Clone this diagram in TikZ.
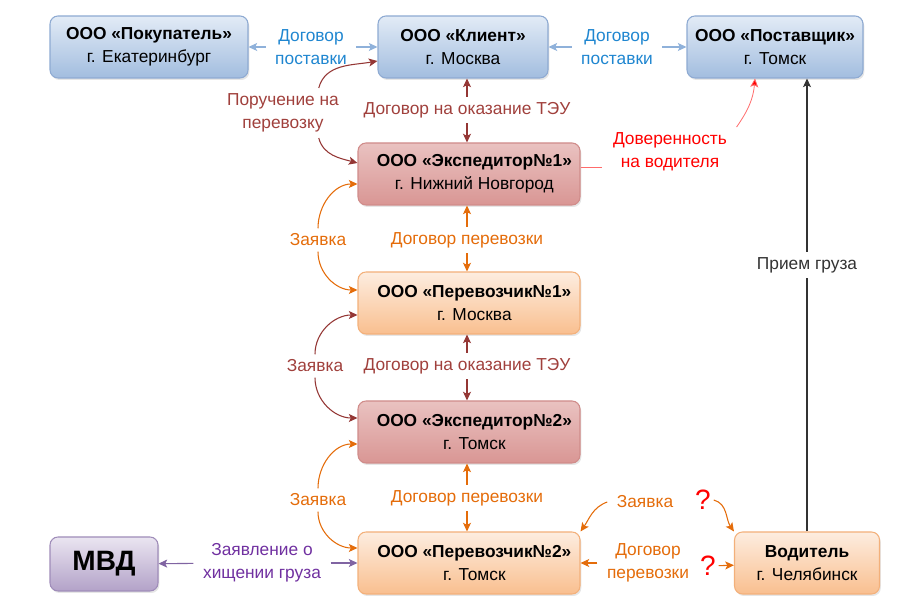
\documentclass[tikz,border=0pt]{standalone}
\usepackage{fontspec}
\setmainfont{Liberation Sans}
\usepackage{xcolor}
\usepackage{tikz}
\usetikzlibrary{arrows.meta}
\usetikzlibrary{positioning}
\usetikzlibrary{calc}
\usetikzlibrary{shadows}
\definecolor{sinijL}{HTML}{E2EBF6}
\definecolor{sinijD}{HTML}{A2BDDF}
\definecolor{sinijB}{HTML}{8EAAD2}
\definecolor{sinijS}{HTML}{8FB1DA}
\definecolor{sinijT}{HTML}{1F86D0}
\definecolor{krasL}{HTML}{F7E6E5}
\definecolor{krasD}{HTML}{D99694}
\definecolor{krasB}{HTML}{D08C8A}
\definecolor{bordoS}{HTML}{943634}
\definecolor{bordoT}{HTML}{A0403C}
\definecolor{oranL}{HTML}{FDEDE0}
\definecolor{oranD}{HTML}{F9BF8F}
\definecolor{oranB}{HTML}{F3B07A}
\definecolor{oranS}{HTML}{E46C0A}
\definecolor{fiolL}{HTML}{EAE5F1}
\definecolor{fiolD}{HTML}{B3A2C8}
\definecolor{fiolB}{HTML}{9F8CB9}
\definecolor{fiolS}{HTML}{8064A2}
\definecolor{fiolT}{HTML}{7030A0}
\definecolor{krasnyj}{HTML}{FF0000}
\definecolor{krasnyjS}{HTML}{FF6B6B}
\definecolor{chern}{HTML}{333333}
\tikzset{
  blok/.style={draw, rounded corners=6pt, align=center, minimum width=#1, minimum height=46.5pt,
    inner sep=2pt, line width=0.8pt, font=\fontsize{13}{17}\selectfont,
    drop shadow={opacity=0.2, shadow xshift=1pt, shadow yshift=-1.5pt}},
  blok/.default=166.5pt,
  sinij/.style={top color=sinijL, bottom color=sinijD, draw=sinijB},
  kras/.style={top color=krasD!45!krasL, middle color=krasL, bottom color=krasD, draw=krasB},
  oran/.style={top color=oranL, bottom color=oranD, draw=oranB},
  fiol/.style={top color=fiolL, bottom color=fiolD, draw=fiolB},
  podpis/.style={align=center, inner xsep=7pt, inner ysep=4pt, font=\fontsize{13}{17.5}\selectfont},
  vopros/.style={inner sep=2pt, text=krasnyj, font=\fontsize{21}{23}\selectfont},
  strelka/.style={-{Stealth[length=6.5pt,width=6pt,inset=1.5pt]}, line width=0.8pt},
}

\begin{document}
\begin{tikzpicture}[x=0.75pt, y=0.75pt]
  \useasboundingbox (0,0) rectangle (900,599);
  % organisations
  \node[blok=148.5pt, sinij] (pok) at (149,552) {\textbf{ООО «Покупатель»}\\г. Екатеринбург};
  \node[blok=127.5pt, sinij] (kli) at (463,552) {\textbf{ООО «Клиент»}\\г. Москва};
  \node[blok=132pt, sinij] (post) at (775,552) {\textbf{ООО «Поставщик»}\\г. Томск};
  \node[blok, kras] (exp1) at (469,425) {\hspace{8pt}\textbf{ООО «Экспедитор№1»}\\\hspace{8pt}г. Нижний Новгород};
  \node[blok, oran] (per1) at (469,296) {\hspace{8pt}\textbf{ООО «Перевозчик№1»}\\\hspace{8pt}г. Москва};
  \node[blok, kras] (exp2) at (469,167) {\hspace{8pt}\textbf{ООО «Экспедитор№2»}\\\hspace{8pt}г. Томск};
  \node[blok, oran] (per2) at (469,36) {\hspace{8pt}\textbf{ООО «Перевозчик№2»}\\\hspace{8pt}г. Томск};
  \node[blok=81pt, fiol, minimum height=40.5pt, font=\fontsize{21}{23}\selectfont\bfseries] (mvd) at (104,35) {МВД};
  \node[blok=108.75pt, oran] (vod) at (807,36) {\textbf{Водитель}\\г. Челябинск};

  % labels
  \node[podpis, text=sinijT] (dp1) at (311,552) {Договор\\поставки};
  \node[podpis, text=sinijT] (dp2) at (617,552) {Договор\\поставки};
  \node[podpis, text=bordoT] (teu1) at (467,489) {Договор на оказание ТЭУ};
  \node[podpis, text=bordoT] (por) at (283,486) {Поручение на\\перевозку};
  \node[podpis, text=krasnyj] (dov) at (670,447) {Доверенность\\на водителя};
  \node[podpis, text=oranS] (dper1) at (467,359) {Договор перевозки};
  \node[podpis, text=oranS] (zay1) at (318,359) {Заявка};
  \node[podpis, text=bordoT] (teu2) at (467,233) {Договор на оказание ТЭУ};
  \node[podpis, text=bordoT] (zay2) at (315,233) {Заявка};
  \node[podpis, text=oranS] (dper2) at (467,101) {Договор перевозки};
  \node[podpis, text=oranS] (zay3) at (318,99) {Заявка};
  \node[podpis, text=fiolT] (zayvl) at (262,36) {Заявление о\\хищении груза};
  \node[podpis, text=oranS] (zay4) at (645,97) {Заявка};
  \node[vopros] (q1) at (703,99) {?};
  \node[podpis, text=oranS] (dp4) at (648,36) {Договор\\перевозки};
  \node[vopros] (q2) at (708,33) {?};
  \node[podpis, text=chern] (pri) at (807,334) {Прием груза};
  \coordinate (dovL) at (602,432);

  % supply contracts
  \draw[strelka, sinijS] (dp1) -- (pok); \draw[strelka, sinijS] (dp1) -- (kli);
  \draw[strelka, sinijS] (dp2) -- (kli); \draw[strelka, sinijS] (dp2) -- (post);
  % forwarding and carriage
  \draw[strelka, bordoS] (teu1.north) -- (teu1.north |- kli.south);
  \draw[strelka, bordoS] (teu1.south) -- (teu1.south |- exp1.north);
  \draw[strelka, bordoS] (por.35) to[out=75, in=190] ($(kli.west)+(0,-14)$);
  \draw[strelka, bordoS] (por.-35) to[out=-75, in=165] ($(exp1.west)+(0,11)$);
  \draw[strelka, oranS] (dper1.north) -- (dper1.north |- exp1.south);
  \draw[strelka, oranS] (dper1.south) -- (dper1.south |- per1.north);
  \draw[strelka, oranS] (zay1.north) to[out=90, in=180] ($(exp1.west)+(0,-10)$);
  \draw[strelka, oranS] (zay1.south) to[out=-90, in=180] ($(per1.west)+(0,13)$);
  \draw[strelka, bordoS] (teu2.north) -- (teu2.north |- per1.south);
  \draw[strelka, bordoS] (teu2.south) -- (teu2.south |- exp2.north);
  \draw[strelka, bordoS] (zay2.north) to[out=90, in=180] ($(per1.west)+(0,-12)$);
  \draw[strelka, bordoS] (zay2.south) to[out=-90, in=180] ($(exp2.west)+(0,14)$);
  \draw[strelka, oranS] (dper2.north) -- (dper2.north |- exp2.south);
  \draw[strelka, oranS] (dper2.south) -- (dper2.south |- per2.north);
  \draw[strelka, oranS] (zay3.north) to[out=90, in=180] ($(exp2.west)+(0,-12)$);
  \draw[strelka, oranS] (zay3.south) to[out=-90, in=180] ($(per2.west)+(0,15)$);
  % police, driver
  \draw[strelka, fiolS] (zayvl) -- (mvd); \draw[strelka, fiolS] (zayvl) -- (per2);
  \draw[strelka, oranS] (zay4.west) to[out=200, in=55] (per2.north east);
  \draw[strelka, oranS] (q1.east) to[out=-15, in=125] (vod.north west);
  \draw[strelka, oranS] (dp4) -- (per2); \draw[strelka, oranS] (q2) -- (vod);
  \draw[line width=0.6pt, krasnyjS] ($(exp1.east)+(0,7)$) -- (dovL);
  \draw[strelka, line width=0.6pt, krasnyjS, -{Stealth[length=6.5pt,width=6pt,inset=1.5pt,fill=krasnyj]}] (dov.north east) to[out=55, in=-95] ($(post.south)+(-20,0)$);
  \draw[line width=0.8pt, chern] (vod) -- (pri);
  \draw[strelka, chern] (pri) -- (pri |- post.south);
\end{tikzpicture}
\end{document}
